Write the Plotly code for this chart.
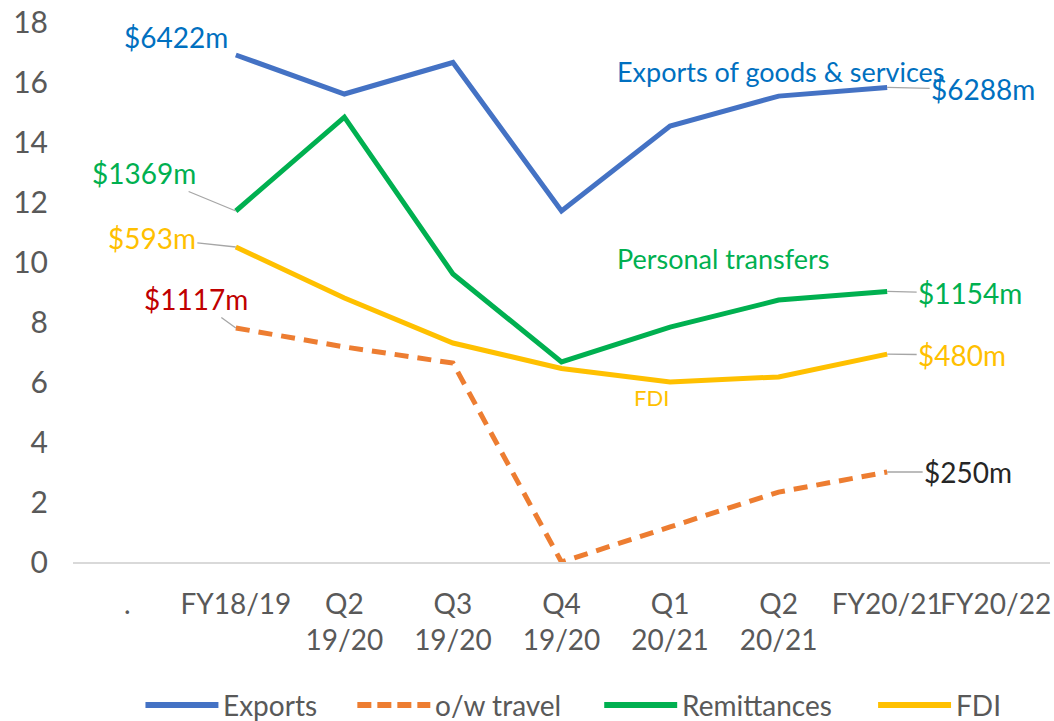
import plotly.graph_objects as go

categories = [".", "FY18/19", "Q2<br>19/20", "Q3<br>19/20", "Q4<br>19/20",
              "Q1<br>20/21", "Q2<br>20/21", "FY20/21", "FY20/22"]
exports = [None, 16.9, 15.6, 16.65, 11.7, 14.53, 15.53, 15.82, None]
travel = [None, 7.8, 7.17, 6.63, 0.0, 1.17, 2.33, 3.0, None]
remittances = [None, 11.7, 14.83, 9.6, 6.67, 7.83, 8.73, 9.02, None]
fdi = [None, 10.5, 8.8, 7.3, 6.45, 6.0, 6.17, 6.93, None]
y_ticks = [0, 2, 4, 6, 8, 10, 12, 14, 16, 18]

series_names = ["Exports", "o/w travel", "Remittances", "FDI"]
colors = ["#4472C4", "#ED7D31", "#00B050", "#FFC000"]
dashes = ["solid", "14px,9px", "solid", "solid"]

FONT = "Lato"
FS = 28

x_idx = list(range(len(categories)))
fig = go.Figure()
for name, vals, col, dsh in zip(series_names, [exports, travel, remittances, fdi], colors, dashes):
    fig.add_trace(go.Scatter(x=x_idx, y=vals, mode="lines", name=name,
                             line=dict(color=col, width=5, dash=dsh),
                             connectgaps=False, showlegend=False))

W, H = 1054, 721
L, R, T, B = 72.5, 4, 22, 159
pw = W - L - R
ph = H - T - B

def px(x):
    return (x - L) / pw

def py(y):
    return (H - B - y) / ph

annotations = []
# value labels with leader lines (offsets in pixels from the data point)
value_labels = [
    ("$6422m", 1, exports[1], -60, -18, "#0070C0", False),
    ("$1369m", 1, remittances[1], -92, -38, "#00B050", True),
    ("$593m", 1, fdi[1], -84, -9, "#FFC000", True),
    ("$1117m", 1, travel[1], -40, -29, "#C00000", True),
    ("$6288m", 7, exports[7], 96, 2, "#0070C0", True),
    ("$1154m", 7, remittances[7], 83, 2, "#00B050", True),
    ("$480m", 7, fdi[7], 75, 1, "#FFC000", True),
    ("$250m", 7, travel[7], 81, 0, "#262626", True),
]
for text, xi, yv, ax, ay, col, arrow in value_labels:
    annotations.append(dict(
        x=xi, y=yv, xref="x", yref="y", text=text, showarrow=True,
        ax=ax, ay=ay, axref="pixel", ayref="pixel",
        arrowhead=0, arrowwidth=1.3, arrowcolor="#A6A6A6" if arrow else "rgba(0,0,0,0)",
        font=dict(family=FONT, size=FS, color=col), xanchor="center", yanchor="middle"))

# series name labels
for text, cx, cy, col, size in [
    ("Exports of goods & services", 781, 71, "#0070C0", 27),
    ("Personal transfers", 723, 258, "#00B050", 27),
    ("FDI", 651, 397, "#FFC000", 22),
]:
    annotations.append(dict(x=px(cx), y=py(cy), xref="paper", yref="paper", text=text,
                            showarrow=False, xanchor="center", yanchor="middle",
                            font=dict(family=FONT, size=size, color=col)))

# custom legend
shapes = []
leg_y = 705
legend_items = [(145, 218, 221), (357, 430, 433), (604, 677, 680), (878, 951, 954)]
for (x0, x1, tx), name, col, dsh in zip(legend_items, series_names, colors, dashes):
    shapes.append(dict(type="line", xref="paper", yref="paper",
                       x0=px(x0), x1=px(x1), y0=py(leg_y), y1=py(leg_y),
                       line=dict(color=col, width=6, dash="14px,6px" if dsh != "solid" else "solid")))
    annotations.append(dict(x=px(tx), y=py(leg_y), xref="paper", yref="paper", text=name,
                            showarrow=False, xanchor="left", yanchor="middle",
                            font=dict(family=FONT, size=FS, color="#595959")))

fig.update_layout(
    width=W, height=H,
    margin=dict(l=L, r=R, t=T, b=B, pad=0, autoexpand=False),
    paper_bgcolor="white", plot_bgcolor="white",
    font=dict(family=FONT, size=FS, color="#595959"),
    annotations=annotations, shapes=shapes,
    xaxis=dict(tickmode="array", tickvals=x_idx, ticktext=categories,
               range=[-0.5, len(categories) - 0.5], showgrid=False, zeroline=False,
               showline=True, linecolor="#D9D9D9", linewidth=2, ticks="", tickangle=0,
               automargin=False,
               ticklabelstandoff=16, tickfont=dict(family=FONT, size=FS, color="#595959")),
    yaxis=dict(range=[0, 18], tickmode="array", tickvals=y_ticks, automargin=False,
               ticktext=[str(v) for v in y_ticks], showgrid=False, zeroline=False,
               showline=False, ticks="", ticklabelstandoff=24,
               tickfont=dict(family=FONT, size=30, color="#595959")),
)

fig.write_html("out.html", config={"displayModeBar": False},
               post_script="document.body.style.margin='0';document.body.style.overflow='hidden';")
